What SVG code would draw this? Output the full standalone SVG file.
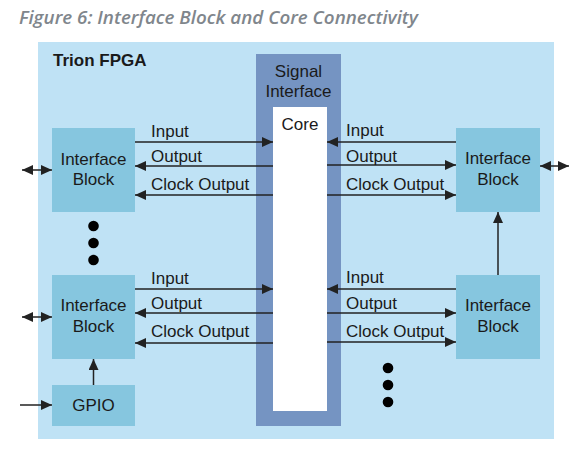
<svg xmlns="http://www.w3.org/2000/svg" width="586" height="472" viewBox="0 0 586 472">
<defs>
<style>
.t{font-family:"Liberation Sans",Arial,sans-serif;font-size:17px;fill:#1a1a1a}
.c{text-anchor:middle}
.blk{fill:#86C6DF}
.ln{stroke:#222;stroke-width:1.5;fill:none;marker-end:url(#ah)}
.bi{stroke:#222;stroke-width:1.5;fill:none;marker-end:url(#ah);marker-start:url(#ahs)}
.dot{fill:#000}
</style>
<marker id="ah" markerUnits="userSpaceOnUse" markerWidth="12" markerHeight="10" refX="11" refY="5" orient="auto">
<path d="M0,0 L11,5 L0,10 Z" fill="#222"/>
</marker>
<marker id="ahs" markerUnits="userSpaceOnUse" markerWidth="12" markerHeight="10" refX="0" refY="5" orient="auto">
<path d="M11,0 L0,5 L11,10 Z" fill="#222"/>
</marker>
</defs>
<rect width="586" height="472" fill="#fff"/>
<text x="19" y="24" font-family="'Open Sans',sans-serif" font-style="italic" font-weight="600" font-size="17.5" fill="#80868c" textLength="399" lengthAdjust="spacingAndGlyphs">Figure 6: Interface Block and Core Connectivity</text>
<g id="fpga">
<rect x="38" y="42" width="516" height="397" fill="#BFE2F5"/>
<text x="53" y="66" class="t" font-weight="bold" font-size="16.7">Trion FPGA</text>
</g>
<g id="signal-interface">
<rect x="256" y="54" width="85" height="372" fill="#7594C2"/>
<text x="298.5" y="77" class="t c" fill="#2a2a2a">Signal</text>
<text x="298.5" y="97" class="t c" fill="#2a2a2a">Interface</text>
</g>
<g id="core">
<rect x="273" y="107" width="54" height="304" fill="#fff"/>
<text x="300" y="130" class="t c">Core</text>
</g>
<g id="ib-left-top">
<rect class="blk" x="52" y="128" width="83" height="84"/>
<text x="93.5" y="165" class="t c">Interface</text>
<text x="93.5" y="185" class="t c">Block</text>
</g>
<g id="ib-left-bottom">
<rect class="blk" x="52" y="275" width="83" height="84"/>
<text x="93.5" y="311" class="t c">Interface</text>
<text x="93.5" y="332" class="t c">Block</text>
</g>
<g id="gpio">
<rect class="blk" x="52" y="385" width="83" height="41"/>
<text x="93.5" y="411" class="t c">GPIO</text>
</g>
<g id="ib-right-top">
<rect class="blk" x="456" y="128" width="84" height="84"/>
<text x="498" y="164" class="t c">Interface</text>
<text x="498" y="185" class="t c">Block</text>
</g>
<g id="ib-right-bottom">
<rect class="blk" x="456" y="275" width="84" height="84"/>
<text x="498" y="311" class="t c">Interface</text>
<text x="498" y="332" class="t c">Block</text>
</g>
<g id="dots">
<circle class="dot" cx="93.5" cy="226" r="5.3"/>
<circle class="dot" cx="93.5" cy="243" r="5.3"/>
<circle class="dot" cx="93.5" cy="260" r="5.3"/>
<circle class="dot" cx="388" cy="368" r="5.3"/>
<circle class="dot" cx="388" cy="385" r="5.3"/>
<circle class="dot" cx="388" cy="402" r="5.3"/>
</g>
<g id="connectors">
<path class="ln" d="M135,142 H273"/>
<path class="ln" d="M273,166 H135"/>
<path class="ln" d="M273,195 H135"/>
<path class="ln" d="M456,142 H327"/>
<path class="ln" d="M327,165 H456"/>
<path class="ln" d="M327,195 H456"/>
<path class="ln" d="M135,289 H273"/>
<path class="ln" d="M273,313 H135"/>
<path class="ln" d="M273,343 H135"/>
<path class="ln" d="M456,289 H327"/>
<path class="ln" d="M327,313 H456"/>
<path class="ln" d="M327,342 H456"/>
<path class="ln" d="M498,275 V212"/>
<path class="ln" d="M93.5,385 V359"/>
<path class="ln" d="M20,405 H52"/>
<path class="bi" d="M22,170 H52"/>
<path class="bi" d="M22,317 H52"/>
<path class="bi" d="M540,166 H569"/>
<text x="151" y="137" class="t">Input</text>
<text x="151" y="162" class="t">Output</text>
<text x="151" y="190" class="t">Clock Output</text>
<text x="346" y="136" class="t">Input</text>
<text x="346" y="162" class="t">Output</text>
<text x="346" y="190" class="t">Clock Output</text>
<text x="151" y="284" class="t">Input</text>
<text x="151" y="309" class="t">Output</text>
<text x="151" y="337" class="t">Clock Output</text>
<text x="346" y="283" class="t">Input</text>
<text x="346" y="309" class="t">Output</text>
<text x="346" y="337" class="t">Clock Output</text>
</g>
</svg>
